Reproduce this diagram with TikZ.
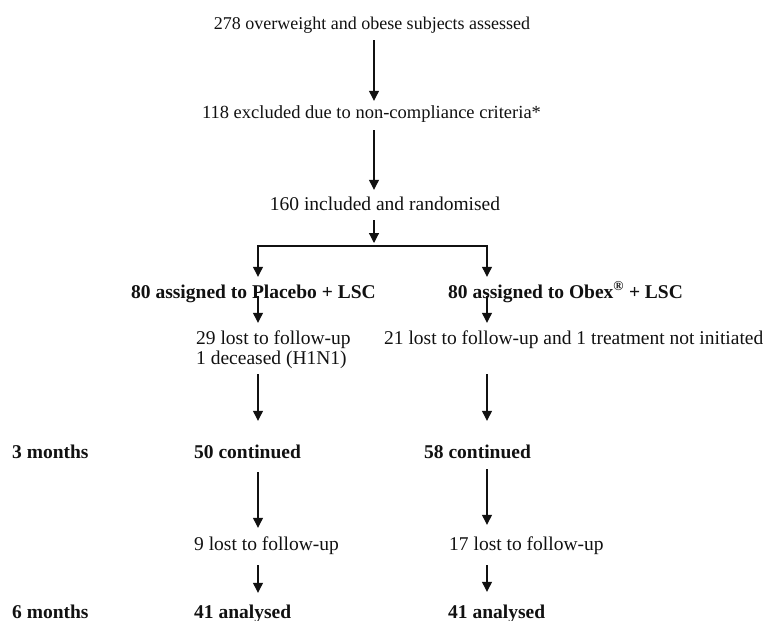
\documentclass[tikz,border=0pt]{standalone}
\usepackage{fontspec}
\setmainfont{Liberation Serif}
\usepackage{tikz}
\usetikzlibrary{arrows.meta}
\definecolor{flowink}{HTML}{111111}

\begin{document}
\begin{tikzpicture}[x=1pt,y=-1pt,
    txt/.style={inner sep=0pt,text height=13.5pt,text depth=4pt,text=flowink,
      font=\fontsize{19.5}{23}\selectfont},
    btxt/.style={txt,font=\fontsize{19.5}{23}\selectfont\bfseries},
    arr/.style={draw=flowink,line width=1.2pt,-{Triangle[length=10pt,width=10pt]}}]
  \useasboundingbox (0,0) rectangle (769,621);
  \coordinate (colA) at (258,0);
  \coordinate (colB) at (487,0);
  \coordinate (fork) at (374,246);
  % screening
  \node[txt,anchor=base,font=\fontsize{18}{22}\selectfont] (assess) at (372,29) {278 overweight and obese subjects assessed};
  \node[txt,anchor=base,font=\fontsize{18.5}{22}\selectfont] (excl) at (371.5,118) {118 excluded due to non-compliance criteria*};
  \node[txt,anchor=base] (incl) at (385,210) {160 included and randomised};
  % arms
  \node[btxt,anchor=base west] (assignA) at (131,298) {80 assigned to Placebo + LSC};
  \node[btxt,anchor=base west] (assignB) at (448,298) {80 assigned to Obex\textsuperscript{®} + LSC};
  \node[txt,anchor=base west] (lostA) at (196,344) {29 lost to follow-up};
  \node[txt,anchor=base west] (deadA) at (196,364) {1 deceased (H1N1)};
  \node[txt,anchor=base west] (lostB) at (384,344) {21 lost to follow-up and 1 treatment not initiated};
  % 3 months
  \node[btxt,anchor=base west] (mon3) at (12,458) {3 months};
  \node[btxt,anchor=base west] (contA) at (194,458) {50 continued};
  \node[btxt,anchor=base west] (contB) at (424,458) {58 continued};
  \node[txt,anchor=base west] (lostC) at (194,550) {9 lost to follow-up};
  \node[txt,anchor=base west] (lostD) at (449,550) {17 lost to follow-up};
  % 6 months
  \node[btxt,anchor=base west] (mon6) at (12,618) {6 months};
  \node[btxt,anchor=base west] (anaA) at (194,618) {41 analysed};
  \node[btxt,anchor=base west] (anaB) at (448,618) {41 analysed};

  \draw[arr,shorten <=7pt,shorten >=3.5pt] (assess.south -| fork) -- (excl.north -| fork);
  \draw[arr,shorten <=8pt,shorten >=6.5pt] (excl.south -| fork) -- (incl.north -| fork);
  \draw[arr,shorten <=6pt,shorten >=3pt] (incl.south -| fork) -- (fork);
  \draw[arr,shorten >=7.5pt] (fork) -| (assignA.north -| colA);
  \draw[arr,shorten >=7.5pt] (fork) -| (assignB.north -| colB);
  \draw[arr,shorten <=-2pt,shorten >=7.5pt] (assignA.base -| colA) -- (lostA.north -| colA);
  \draw[arr,shorten <=-2pt,shorten >=7.5pt] (assignB.base -| colB) -- (lostB.north -| colB);
  \draw[arr,shorten <=6pt,shorten >=23.5pt] (deadA.south -| colA) -- (contA.north -| colA);
  \draw[arr,shorten <=26pt,shorten >=23.5pt] (lostB.south -| colB) -- (contB.north -| colB);
  \draw[arr,shorten <=10pt,shorten >=8.5pt] (contA.south -| colA) -- (lostC.north -| colA);
  \draw[arr,shorten <=7pt,shorten >=11.5pt] (contB.south -| colB) -- (lostD.north -| colB);
  \draw[arr,shorten <=11pt,shorten >=11.5pt] (lostC.south -| colA) -- (anaA.north -| colA);
  \draw[arr,shorten <=11pt,shorten >=12.5pt] (lostD.south -| colB) -- (anaB.north -| colB);
\end{tikzpicture}
\end{document}
